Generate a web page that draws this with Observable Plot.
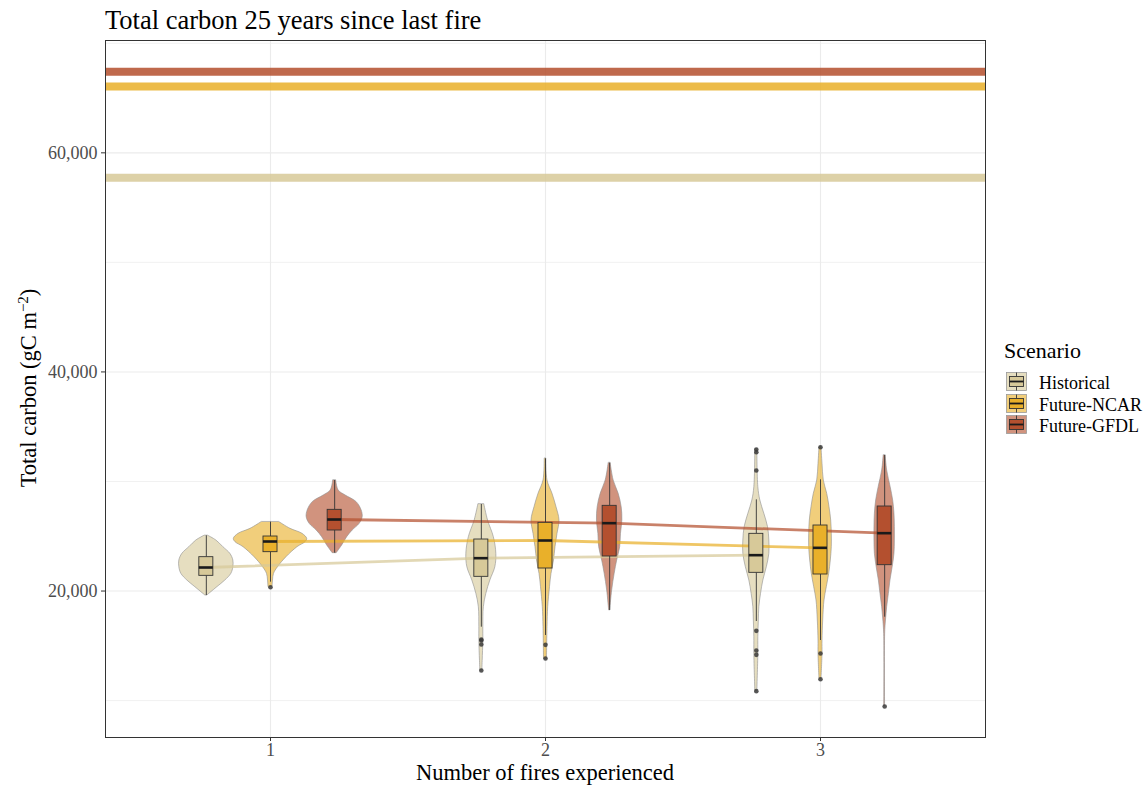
<!DOCTYPE html>
<html><head><meta charset="utf-8">
<script src="https://cdn.jsdelivr.net/npm/d3@7"></script>
<script src="https://cdn.jsdelivr.net/npm/@observablehq/plot@0.6"></script>
<style>
body{margin:0;background:#fff;}
#wrap{position:relative;width:1148px;height:786px;font-family:"Liberation Serif","Times New Roman",serif;color:#000;}
#wrap svg{position:absolute;left:0;top:0;}
.abs{position:absolute;white-space:nowrap;line-height:1;}
#title{left:105px;top:6.5px;font-size:26.5px;}
#xtitle{left:545px;top:764px;font-size:22.5px;line-height:0.8;transform:translateX(-50%);}
#ytitle{left:28.5px;top:388px;font-size:22.5px;transform:translate(-50%,-50%) rotate(-90deg);}
#ytitle sup{font-size:15px;line-height:0;vertical-align:0.55em;}
#legtitle{left:1004px;top:340px;font-size:22px;}
.leglab{font-size:18px;}
</style></head>
<body>
<div id="wrap">
  <div id="chart"></div>
  <div class="abs" id="title">Total carbon 25 years since last fire</div>
  <div class="abs" id="xtitle">Number of fires experienced</div>
  <div class="abs" id="ytitle">Total carbon (gC m<sup>−2</sup>)</div>
  <div class="abs" id="legtitle">Scenario</div>
</div>
<script>
// ---------------- data ----------------
const scenarios = ["Historical", "Future-NCAR", "Future-GFDL"];
const fireCounts = [1, 2, 3];
const xTicks = [1, 2, 3];
const yTicks = [20000, 40000, 60000];
const yMinorTicks = [10000, 30000, 50000, 70000];

// horizontal reference level per scenario (gC m-2)
const refScenario = ["Historical", "Future-NCAR", "Future-GFDL"];
const refValue = [57729, 66053, 67404];

// box statistics: scenario, fires, lower whisker, q1, median, q3, upper whisker
const boxStats = [
  ["Historical", 1, 19592, 21387, 22148, 23091, 25038],
  ["Future-NCAR", 1, 20809, 23547, 24521, 24977, 26285],
  ["Future-GFDL", 1, 23456, 25525, 26529, 27412, 30089],
  ["Historical", 2, 16701, 21296, 22999, 24703, 27898],
  ["Future-NCAR", 2, 15941, 22056, 24612, 26225, 32067],
  ["Future-GFDL", 2, 18223, 23152, 26194, 27777, 31671],
  ["Historical", 3, 17218, 21661, 23273, 25221, 28324],
  ["Future-NCAR", 3, 15484, 21509, 23943, 25981, 30150],
  ["Future-GFDL", 3, 17614, 22360, 25281, 27716, 32371]
];

// outliers: scenario, fires, value
const outliers = [
  ["Future-NCAR", 1, 20352],
  ["Historical", 2, 15575], ["Historical", 2, 15484], ["Historical", 2, 15119], ["Historical", 2, 12746],
  ["Future-NCAR", 2, 15089], ["Future-NCAR", 2, 13841],
  ["Historical", 3, 32919], ["Historical", 3, 32675], ["Historical", 3, 31002],
  ["Historical", 3, 16367], ["Historical", 3, 14571], ["Historical", 3, 14176], ["Historical", 3, 10859],
  ["Future-NCAR", 3, 33131], ["Future-NCAR", 3, 14298], ["Future-NCAR", 3, 11954],
  ["Future-GFDL", 3, 9460]
];

// violin profiles: [value, relative density (half-width)]
const violinHist1 = [[25038,2],[24612,10],[24004,17],[23395,24],[22787,27],[22178,27],[21570,25],[20961,19],[20352,11],[19896,5],[19592,1]];
const violinNcar1 = [[26285,9],[25677,20],[25221,32],[24764,36.7],[24460,35],[24004,27],[23091,16],[22178,7.5],[21570,3.5],[20961,2.5],[20352,2]];
const violinGfdl1 = [[30089,1.5],[29176,4],[28720,11],[28111,22],[27351,27],[26742,28],[26133,25],[25525,18],[24916,12.5],[24156,7.5],[23456,2]];
const violinHist2 = [[27898,3],[26438,6.7],[24916,12.5],[23395,15],[22178,14],[20961,9],[19744,5],[18526,2.5],[16701,2],[15484,2],[12746,1]];
const violinNcar2 = [[32067,0.8],[30089,2],[28872,7],[27655,11],[26438,14],[25221,12],[24004,10],[22787,8.5],[21570,6],[20352,4.5],[18526,2.7],[16701,2],[13811,1.5]];
const violinGfdl2 = [[31671,1],[30089,4],[28872,9],[27655,12],[26438,12.7],[25221,11.3],[24004,10.5],[22787,7.5],[21570,5],[20048,2.5],[18223,0.5]];
const violinHist3 = [[32919,1],[29480,2],[28263,4],[27046,8],[25829,11.7],[24612,13],[23395,13],[22178,10.5],[20961,7],[19744,4.7],[18526,3],[17310,2.5],[15788,2],[14267,2],[10859,1]];
const violinNcar3 = [[33131,1],[31611,2],[30089,3.3],[28872,6.7],[27655,9],[26438,10.7],[25221,11.3],[24004,11.3],[22787,10.3],[21570,8.7],[20352,6.3],[19135,4],[17310,2.7],[15484,2],[14267,2],[11954,1]];
const violinGfdl3 = [[32371,1],[31002,2.5],[29480,6],[28263,8.5],[27046,9.8],[25829,10.2],[24612,10.2],[23395,9.8],[22178,8],[20961,5.8],[19744,4.2],[18526,2.5],[17310,1.3],[16093,0.5],[9460,0.4]];
const violinList = [
  ["Historical", 1, violinHist1], ["Future-NCAR", 1, violinNcar1], ["Future-GFDL", 1, violinGfdl1],
  ["Historical", 2, violinHist2], ["Future-NCAR", 2, violinNcar2], ["Future-GFDL", 2, violinGfdl2],
  ["Historical", 3, violinHist3], ["Future-NCAR", 3, violinNcar3], ["Future-GFDL", 3, violinGfdl3]
];

// ---------------- styling ----------------
const fillColors = ["#D7C999", "#E9B02A", "#B4502F"];
const dodgeWidth = 0.7;
const boxHalf = 0.0255;
const densityToX = 1 / 275;

const offset = s => (scenarios.indexOf(s) - 1) * dodgeWidth / 3;
const cx = d => d.fires + offset(d.scenario);

const boxes = boxStats.map(([scenario, fires, lo, q1, med, q3, hi]) => ({scenario, fires, lo, q1, med, q3, hi}));
const outRows = outliers.map(([scenario, fires, v]) => ({scenario, fires, v}));
const refRows = refScenario.map((s, i) => ({scenario: s, v: refValue[i]}));
const violinRows = violinList.flatMap(([scenario, fires, prof]) =>
  prof.map(([v, w]) => ({id: scenario + fires, scenario, fires, v, w})));
const trendRows = boxes.slice().sort((a, b) => a.fires - b.fires);

const plot = Plot.plot({
  width: 1148, height: 786,
  marginLeft: 105, marginRight: 163, marginTop: 40, marginBottom: 49,
  x: {domain: [0.4, 3.6], axis: null},
  y: {domain: [6630, 70254], axis: null},
  color: {domain: scenarios, range: fillColors},
  style: {fontFamily: "Liberation Serif, Times New Roman, serif", background: "transparent"},
  marks: [
    Plot.gridY({ticks: yMinorTicks, stroke: "#EBEBEB", strokeOpacity: 1, strokeWidth: 0.7}),
    Plot.gridY({ticks: yTicks, stroke: "#EBEBEB", strokeOpacity: 1, strokeWidth: 1.1}),
    Plot.gridX({ticks: xTicks, stroke: "#EBEBEB", strokeOpacity: 1, strokeWidth: 1.1}),
    Plot.ruleY(refRows, {y: "v", stroke: "scenario", strokeWidth: 8, strokeOpacity: 0.86}),
    Plot.areaX(violinRows, {
      y: "v", x1: d => cx(d) - d.w * densityToX, x2: d => cx(d) + d.w * densityToX,
      z: "id", fill: "scenario", fillOpacity: 0.62, stroke: "#8f8f8f", strokeWidth: 0.6,
      curve: "catmull-rom"
    }),
    Plot.line(trendRows, {x: cx, y: "med", z: "scenario", stroke: "scenario", strokeWidth: 2.8, strokeOpacity: 0.72}),
    Plot.ruleX(boxes, {x: cx, y1: "lo", y2: "q1", stroke: "#333", strokeWidth: 0.9}),
    Plot.ruleX(boxes, {x: cx, y1: "q3", y2: "hi", stroke: "#333", strokeWidth: 0.9}),
    Plot.rect(boxes, {x1: d => cx(d) - boxHalf, x2: d => cx(d) + boxHalf, y1: "q1", y2: "q3",
      fill: "scenario", stroke: "#333", strokeWidth: 0.9}),
    Plot.ruleY(boxes, {y: "med", x1: d => cx(d) - boxHalf, x2: d => cx(d) + boxHalf, stroke: "#1a1a1a", strokeWidth: 2.6}),
    Plot.dot(outRows, {x: cx, y: "v", r: 2.3, fill: "#3a3a3a", fillOpacity: 0.85, stroke: "none"}),
    Plot.frame({stroke: "#333", strokeWidth: 1}),
    Plot.axisY({ticks: yTicks, tickFormat: d3.format(","), tickSize: 4, tickPadding: 4, fontSize: 18,
      stroke: "#333", fill: "#4D4D4D", label: null}),
    Plot.axisX({ticks: xTicks, tickFormat: d => String(d), tickSize: 4, tickPadding: 2, fontSize: 18,
      stroke: "#333", fill: "#4D4D4D", label: null})
  ]
});
document.getElementById("chart").appendChild(plot);

// ---------------- legend ----------------
const wrap = document.getElementById("wrap");
scenarios.forEach((s, i) => {
  const top = 372 + i * 21.7;
  const c = fillColors[i];
  const key = document.createElement("div");
  key.className = "abs";
  key.style.left = "1006px"; key.style.top = top + "px";
  key.innerHTML = `<svg width="21" height="19" style="position:static;display:block">
    <rect x="0.5" y="0.5" width="20" height="18" fill="${c}" fill-opacity="0.62" stroke="#9a9a9a" stroke-width="0.8"/>
    <line x1="10.5" x2="10.5" y1="0.5" y2="4.5" stroke="#333" stroke-width="0.9"/>
    <line x1="10.5" x2="10.5" y1="14.5" y2="18.5" stroke="#333" stroke-width="0.9"/>
    <rect x="3.5" y="4.5" width="14" height="10" fill="${c}" stroke="#333" stroke-width="0.9"/>
    <line x1="3.5" x2="17.5" y1="9.5" y2="9.5" stroke="#1a1a1a" stroke-width="1.8"/>
  </svg>`;
  wrap.appendChild(key);
  const lab = document.createElement("div");
  lab.className = "abs leglab";
  lab.style.left = "1039px"; lab.style.top = (top + 2) + "px";
  lab.textContent = s;
  wrap.appendChild(lab);
});
</script>
</body></html>
